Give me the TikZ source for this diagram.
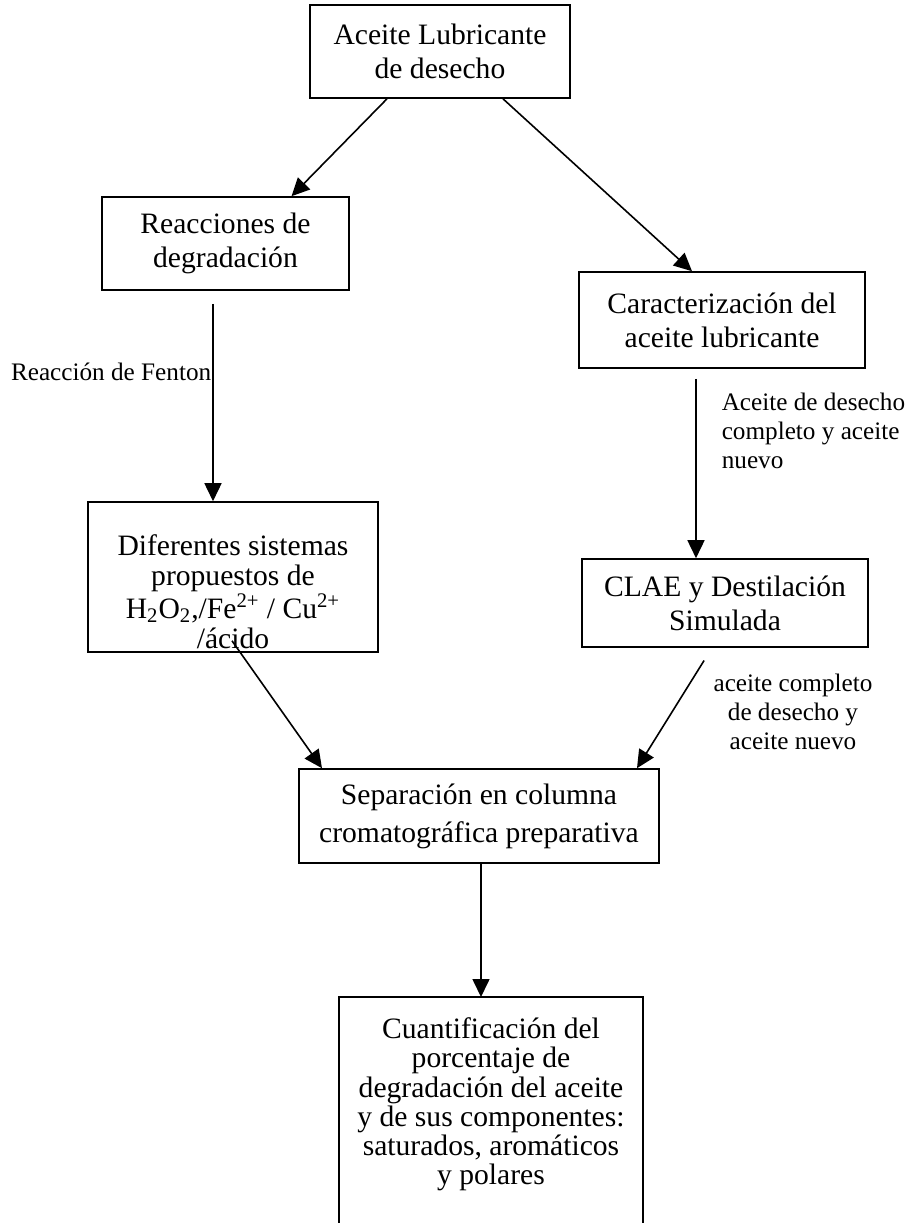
\documentclass[tikz,border=0pt]{standalone}
\usepackage{fontspec}
\setmainfont{Liberation Serif}
\usetikzlibrary{arrows.meta}

\begin{document}
\begin{tikzpicture}[x=0.5pt,y=-0.5pt,line width=0.8pt,>={Triangle[length=9pt,width=8.5pt]},
  caja/.style={draw,align=center,inner sep=0pt,font=\fontsize{14.8}{17}\selectfont},
  nota/.style={inner sep=0pt,font=\fontsize{12.6}{14.5}\selectfont}]
\useasboundingbox (0,0) rectangle (909,1223);
\node[caja,minimum width=130pt,minimum height=46.5pt] (aceite) at (440,51.5) {Aceite Lubricante\\de desecho};
\node[caja,minimum width=123.5pt,minimum height=46.5pt] (react) at (225.5,243.5) {Reacciones de\\degradación};
\node[caja,minimum width=143pt,minimum height=48pt] (caract) at (722,320) {Caracterización del\\aceite lubricante};
\node[caja,minimum width=145pt,minimum height=75pt,font=\fontsize{14.8}{15}\selectfont] (sist) at (233,577)
  {\rule{0pt}{25pt}Diferentes sistemas\\propuestos de\\H\textsubscript{2}O\textsubscript{2},/Fe\textsuperscript{2+} / Cu\textsuperscript{2+}\\/ácido};
\node[caja,minimum width=143pt,minimum height=44pt] (clae) at (725,603) {CLAE y Destilación\\Simulada};
\node[caja,minimum width=180pt,minimum height=47pt,font=\fontsize{14.8}{19}\selectfont] (separ) at (479,816) {Separación en columna\\cromatográfica preparativa};
\node[caja,draw=none,font=\fontsize{14.8}{14.6}\selectfont] (cuant) at (491,1104.5)
  {Cuantificación del\\porcentaje de\\degradación del aceite\\y de sus componentes:\\saturados, aromáticos\\y polares};
\draw (339,1223) |- (643,997) -- (643,1223);
\coordinate (cuanttop) at (481,997);

\node[nota,anchor=east] (fenton) at (212,372) {Reacción de Fenton};
\node[nota,anchor=west,align=left] (notacar) at (721,431) {Aceite de desecho\\completo y aceite\\nuevo};
\node[nota,align=center] (notaclae) at (793,712) {aceite completo\\de desecho y\\aceite nuevo};

\draw[->] ([xshift=-26.5pt]aceite.south) -- ([xshift=33pt]react.north);
\draw[->] ([xshift=31.5pt]aceite.south) -- ([xshift=-15pt]caract.north);
\draw[->,shorten <=6.5pt] ([xshift=-6.25pt]react.south) -- ([xshift=-10pt]sist.north);
\draw[->,shorten <=5pt] ([xshift=-13pt]caract.south) -- ([xshift=-14.5pt]clae.north);
\draw[->] ([xshift=-0.5pt,yshift=6pt]sist.south) -- ([xshift=-78.5pt]separ.north);
\draw[->,shorten <=7.5pt] ([xshift=-6.5pt]clae.south) -- ([xshift=79pt]separ.north);
\draw[->] ([xshift=1pt]separ.south) -- (cuanttop);
\end{tikzpicture}
\end{document}
